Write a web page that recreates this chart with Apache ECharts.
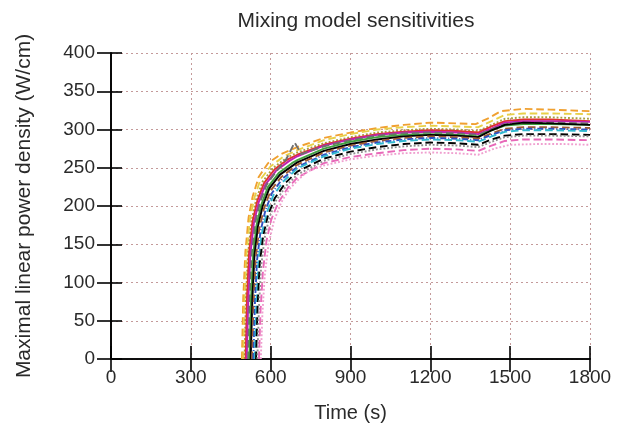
<!DOCTYPE html>
<html><head><meta charset="utf-8">
<script src="https://cdn.jsdelivr.net/npm/echarts@6/dist/echarts.min.js"></script>
<style>html,body{margin:0;padding:0;background:#fff}#c{width:619px;height:428px}</style>
</head><body><div id="c"></div>
<script>
var xTicks = [0, 300, 600, 900, 1200, 1500, 1800];
var yTicks = [0, 50, 100, 150, 200, 250, 300, 350, 400];

var s1 = [[492,0],[497,80],[505,140],[517,185],[532,212],[555,238],[590,256],[640,268],[700,277],[800,289],[900,296],[1000,302],[1100,306],[1200,309],[1300,308],[1370,307],[1420,315],[1465,324],[1550,327],[1650,326],[1800,324]];
var s2 = [[497,0],[502,80],[510,140],[522,183],[538,210],[562,235],[600,252],[650,265],[700,273],[800,286],[900,294],[1000,300],[1100,303],[1200,305],[1300,304],[1380,303],[1430,311],[1480,319],[1550,321],[1650,321],[1800,320]];
var s3 = [[502,0],[507,78],[515,138],[528,180],[545,208],[570,232],[610,250],[660,263],[700,270],[800,282],[900,290],[1000,296],[1100,299],[1200,301],[1300,300],[1380,298],[1430,306],[1480,314],[1550,316],[1650,316],[1800,314]];
var s4 = [[506,0],[511,80],[519,140],[532,180],[550,207],[575,230],[615,248],[665,261],[700,267],[800,280],[900,288],[1000,294],[1100,297],[1200,299],[1300,298],[1380,296],[1430,304],[1480,311],[1550,313],[1650,313],[1800,311]];
var s5 = [[510,0],[516,78],[524,138],[537,178],[555,205],[580,228],[620,246],[670,259],[700,265],[800,279],[900,287],[1000,293],[1100,296],[1200,297],[1300,296],[1380,294],[1430,301],[1480,309],[1550,311],[1650,311],[1800,310]];
var s6 = [[515,0],[521,78],[529,138],[542,178],[560,205],[585,228],[625,247],[660,262],[690,283],[715,268],[800,278],[900,286],[1000,292],[1100,295],[1200,296],[1300,295],[1380,293],[1430,300],[1480,307],[1550,309],[1650,309],[1800,308]];
var s7 = [[520,0],[526,76],[534,135],[547,175],[565,202],[590,225],[630,243],[680,256],[700,260],[800,275],[900,284],[1000,290],[1100,293],[1200,294],[1300,293],[1380,291],[1430,299],[1480,305],[1550,307],[1650,307],[1800,306]];
var s8 = [[525,0],[531,76],[539,135],[552,173],[570,200],[595,223],[635,241],[700,257],[800,272],[900,281],[1000,287],[1100,291],[1200,293],[1300,292],[1380,290],[1430,299],[1480,306],[1550,309],[1650,308],[1800,306]];
var s9 = [[530,0],[536,74],[544,132],[557,170],[575,197],[600,220],[640,238],[700,254],[800,270],[900,279],[1000,285],[1100,289],[1200,291],[1300,290],[1380,288],[1430,295],[1480,301],[1550,303],[1650,303],[1800,302]];
var s10 = [[535,0],[541,74],[549,130],[562,167],[580,194],[605,217],[645,236],[700,251],[800,267],[900,277],[1000,283],[1100,287],[1200,289],[1300,288],[1380,286],[1430,293],[1480,299],[1550,301],[1650,301],[1800,300]];
var s11 = [[540,0],[546,72],[554,128],[567,164],[585,191],[610,214],[650,233],[700,249],[800,265],[900,275],[1000,281],[1100,285],[1200,287],[1300,286],[1380,284],[1430,291],[1480,297],[1550,299],[1650,299],[1800,298]];
var s12 = [[545,0],[551,70],[559,125],[572,161],[590,188],[615,210],[655,230],[700,245],[800,262],[900,271],[1000,277],[1100,281],[1200,283],[1300,282],[1380,280],[1430,287],[1480,292],[1550,294],[1650,294],[1800,293]];
var s13 = [[550,0],[556,68],[564,120],[577,158],[595,185],[620,207],[660,227],[700,241],[800,259],[900,268],[1000,274],[1100,278],[1200,280],[1300,279],[1380,277],[1430,284],[1480,290],[1550,292],[1650,292],[1800,291]];
var s14 = [[556,0],[562,64],[571,115],[584,154],[602,182],[628,204],[665,224],[700,237],[800,256],[900,264],[1000,269],[1100,273],[1200,275],[1300,274],[1380,272],[1430,279],[1480,285],[1550,287],[1650,287],[1800,286]];
var s15 = [[563,0],[569,60],[578,110],[592,150],[612,180],[640,205],[670,222],[700,233],[737,245],[800,253],[900,261],[1000,266],[1100,269],[1200,270],[1300,269],[1380,267],[1440,275],[1500,280],[1600,281],[1700,281],[1800,280]];

var seriesData = [s1,s2,s3,s4,s5,s6,s7,s8,s9,s10,s11,s12,s13,s14,s15];
var seriesColors = ['#f0a030','#e8d048','#a8a040','#e03030','#c020b0','#707070','#40a040','#000000','#a05a30','#3050c0','#30b8d0','#000000','#909090','#e868b8','#f0a0d0'];
var seriesDash = ['dashed','dashed','dotted','solid','solid','dashed','solid','solid','dashed',[6,2,1,2],'dashed','dashed','dotted','dashed','dotted'];

var chart = echarts.init(document.getElementById('c'), null, {renderer:'canvas'});
var font = 'Liberation Sans, Arial, sans-serif';
var gridLine = {show:true, lineStyle:{color:'#c49a9a', type:[2,3], width:1}};
var plain = function(v){ return String(v); };
var series = seriesData.map(function(d,i){
  return {type:'line', data:d, showSymbol:false, symbol:'none', animation:false,
    lineStyle:{color:seriesColors[i], width:1.9, type:seriesDash[i]}, z: 3};
});
chart.setOption({
  animation:false,
  title:{text:'Mixing model sensitivities', left:351, top:6, textAlign:'center',
    textStyle:{fontFamily:font, fontSize:21, fontWeight:'normal', color:'#2a2a2a'}},
  grid:{left:111, right:29, top:53, bottom:67},
  xAxis:[{type:'value', min:0, max:1800, interval:300, position:'bottom',
    name:'Time (s)', nameLocation:'middle', nameGap:44,
    nameTextStyle:{fontFamily:font, fontSize:20, color:'#2a2a2a'},
    axisLine:{show:true, lineStyle:{color:'#000', width:1.6}},
    axisTick:{show:true, inside:true, length:13, lineStyle:{color:'#000', width:1.6}},
    axisLabel:{fontFamily:font, fontSize:19, color:'#2a2a2a', margin:9, formatter:plain},
    splitLine:gridLine},
   {type:'value', min:0, max:1800, interval:300, position:'top',
    axisLine:{show:true, lineStyle:{color:'#000', width:1.6}},
    axisTick:{show:true, inside:true, length:13, lineStyle:{color:'#000', width:1.6}},
    axisLabel:{show:false}, splitLine:{show:false}}],
  yAxis:[{type:'value', min:0, max:400, interval:50, position:'left',
    name:'Maximal linear power density (W/cm)', nameLocation:'middle', nameGap:76,
    nameTextStyle:{fontFamily:font, fontSize:21, color:'#2a2a2a'},
    axisLine:{show:true, lineStyle:{color:'#000', width:1.6}},
    axisTick:{show:true, inside:true, length:11, lineStyle:{color:'#000', width:1.6}},
    axisLabel:{fontFamily:font, fontSize:19, color:'#2a2a2a', margin:16, formatter:plain},
    splitLine:gridLine},
   {type:'value', min:0, max:400, interval:50, position:'right',
    axisLine:{show:true, lineStyle:{color:'#000', width:1.6}},
    axisTick:{show:true, inside:true, length:14, lineStyle:{color:'#000', width:1.6}},
    axisLabel:{show:false}, splitLine:{show:false}}],
  series: series
});
</script></body></html>
